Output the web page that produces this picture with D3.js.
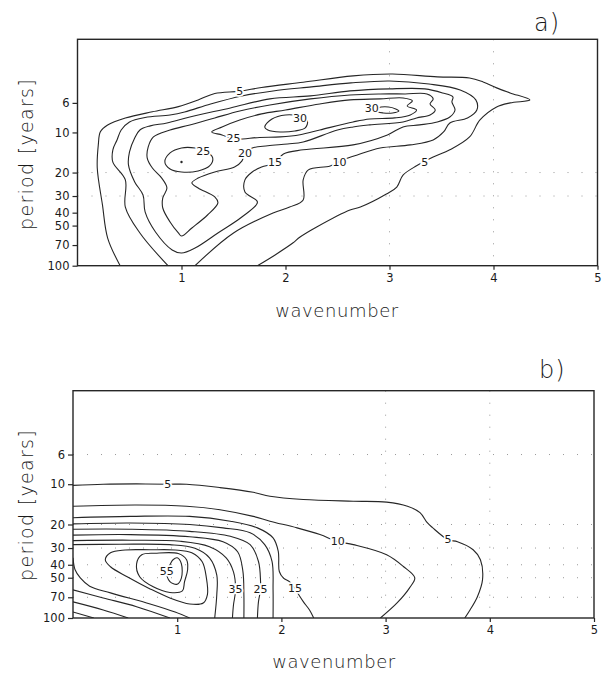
<!DOCTYPE html>
<html>
<head>
<meta charset="utf-8">
<script src="https://cdn.jsdelivr.net/npm/d3@7"></script>
<style>
  body { margin: 0; background: #fff; }
  svg { display: block; }
  text { font-family: "DejaVu Sans", sans-serif; fill: #1a1a1a; }
</style>
</head>
<body>
<svg id="chart" width="611" height="676"></svg>
<script>
// axes
const wavenumberDomain = [0, 5]
const periodDomain = [2, 100]
const xTicks = [1, 2, 3, 4, 5]
const yTicks = [6, 10, 20, 30, 40, 50, 70, 100]

// panel a) contour lines, points are [wavenumber, period]
const a05 = [[0.41,100],[0.29,62],[0.24,35],[0.19,18.5],[0.2,12.4],[0.22,9.9],[0.29,8.8],[0.46,7.8],[0.72,7.0],[0.97,6.4],[1.16,5.7],[1.32,5.1],[1.56,4.9],[1.77,4.6],[2.17,4.2],[2.65,3.76],[3.03,3.64],[3.46,3.83],[3.77,3.9],[3.9,4.18],[4.03,4.63],[4.16,5.05],[4.35,5.7],[4.16,6.0],[4.03,6.44],[3.87,8.06],[3.77,10.8],[3.58,13.5],[3.42,15.3],[3.26,17.8],[3.13,20.9],[3.07,25.7],[2.97,29],[2.72,36.3],[2.62,38.2],[2.3,51.2],[2.14,60.9],[2.07,67.6],[1.9,83],[1.73,100]]
const a10 = [[0.87,100],[0.6,56.8],[0.46,36.3],[0.46,22.7],[0.34,16.7],[0.34,13.5],[0.38,11.4],[0.42,9.58],[0.5,8.34],[0.65,7.72],[0.89,7.39],[1.03,7.02],[1.28,6.11],[1.58,5.32],[1.88,4.88],[2.25,4.55],[2.63,4.25],[3.0,4.11],[3.38,4.33],[3.68,4.8],[3.83,5.7],[3.84,6.78],[3.75,7.78],[3.58,8.49],[3.52,9.92],[3.42,11.4],[3.2,12.4],[2.91,13.1],[2.69,14.75],[2.55,16.1],[2.43,17.85],[2.22,19.1],[2.17,22.7],[2.17,32.1],[2.04,36.3],[1.88,40.2],[1.5,56.8],[1.13,100]]
const a15 = [[1.0,80.3],[0.91,76.2],[0.75,55.9],[0.65,39.5],[0.63,29.5],[0.55,23.5],[0.49,17.5],[0.5,14.0],[0.55,11.0],[0.6,9.58],[0.7,8.93],[0.86,8.49],[1.08,7.65],[1.47,6.55],[1.85,5.6],[2.24,5.32],[2.62,4.88],[3.0,4.71],[3.34,4.71],[3.51,5.05],[3.61,5.41],[3.6,5.9],[3.63,6.78],[3.58,7.65],[3.46,8.34],[3.29,8.78],[3.13,9.09],[2.98,10.44],[2.65,12.4],[2.17,13.5],[1.98,14.5],[1.9,16.9],[1.77,18.2],[1.68,19.8],[1.61,22.7],[1.61,28],[1.73,33.3],[1.58,43.1],[1.35,56.8],[1.13,73.7]]
const a20 = [[1.0,59.9],[0.97,56.8],[0.89,47],[0.82,36.9],[0.82,31],[0.86,26.1],[0.81,22],[0.72,18.5],[0.67,15.5],[0.68,12.85],[0.73,10.8],[0.89,9.58],[1.08,8.78],[1.32,7.78],[1.56,6.9],[1.85,6.22],[2.24,5.6],[2.62,5.23],[2.91,5.14],[3.15,5.14],[3.36,5.14],[3.42,5.6],[3.39,6.11],[3.44,6.78],[3.39,7.39],[3.26,7.78],[3.13,8.34],[2.81,8.78],[2.65,9.09],[2.5,9.58],[2.17,11.8],[2.02,12.2],[1.83,12.6],[1.68,13.1],[1.61,14.5],[1.58,16.4],[1.51,18.2],[1.32,19.8],[1.16,22],[1.1,23.9],[1.16,26.1],[1.32,30.5],[1.35,33.8],[1.25,41.65],[1.1,52.1]]
const a25 = [[1.29,9.92],[1.39,9.09],[1.56,8.06],[1.77,7.26],[2.0,6.78],[2.33,6.11],[2.62,5.7],[2.91,5.6],[3.13,5.51],[3.22,5.8],[3.17,6.33],[3.26,6.78],[3.2,7.39],[3.05,7.78],[2.81,7.92],[2.65,8.34],[2.33,9.58],[2.14,10.4],[1.95,10.8],[1.75,10.9],[1.5,11.2],[1.39,10.44]]
const a25island = [[0.84,16.65],[0.89,14.25],[1.0,13.07],[1.13,13.07],[1.23,13.8],[1.3,15.5],[1.27,17.85],[1.16,19.45],[1.0,19.8],[0.89,18.8]]
const a30left = [[1.8,9.09],[1.87,7.92],[2.0,7.39],[2.12,7.52],[2.21,8.2],[2.19,9.25],[2.09,9.75],[1.95,9.92],[1.83,9.58]]
const a30right = [[2.89,6.55],[2.99,6.44],[3.06,6.66],[3.09,6.9],[3.03,7.14],[2.94,7.14],[2.89,7.02],[2.87,6.78]]
const labelsA = [['5',1.56,4.9],['5',3.34,16.9],['10',2.52,16.9],['15',1.9,16.9],['20',1.61,14.5],['25',1.5,11.1],['25',1.21,13.8],['30',2.14,7.9],['30',2.83,6.66]]
const dotsA = [[1.0,16.65]]
const gridRowsA = [20, 30]
const gridColsA = [3, 4]

// panel b) contour lines
const b05 = [[0,10.2],[0.29,10.0],[0.61,9.95],[0.91,10.0],[1.09,10.0],[1.41,10.6],[1.73,11.5],[1.89,12.3],[2.21,13.0],[2.69,13.4],[3.01,13.6],[3.21,14.6],[3.33,16.3],[3.4,19.4],[3.45,21.1],[3.6,26],[3.69,26.9],[3.84,30.9],[3.91,36.7],[3.93,51.9],[3.88,69.6],[3.81,87.1],[3.76,100]]
const b10 = [[0,14.6],[0.61,14.3],[1.09,14.6],[1.41,15.5],[1.73,17.4],[1.89,18.9],[2.15,21.2],[2.37,23.8],[2.54,26.8],[2.69,28.3],[3.01,33.7],[3.17,41.2],[3.28,50.1],[3.23,59.5],[3.11,77.2],[2.95,100]]
const b15 = [[0,17.8],[0.55,17.4],[1.12,17.4],[1.51,18.9],[1.77,21.2],[1.92,25.2],[1.97,31.8],[1.98,44.9],[2.02,50.4],[2.08,53.7],[2.13,60.6],[2.21,75.5],[2.27,87.1],[2.31,100]]
const b20 = [[0,19.8],[0.55,19.5],[1.12,20.0],[1.44,21.2],[1.7,23.1],[1.84,28.3],[1.91,37.8],[1.92,61.6],[1.92,100]]
const b25 = [[0,21.7],[0.55,21.7],[1.12,22.5],[1.51,24.5],[1.7,28.3],[1.78,37.8],[1.8,53.4],[1.8,61.6],[1.78,75.5],[1.77,100]]
const b30 = [[0,24.0],[0.55,23.8],[1.12,24.7],[1.44,26.9],[1.58,32.0],[1.63,44.4],[1.64,66.8],[1.64,100]]
const b35 = [[0,26.4],[0.55,26.2],[1.03,26.7],[1.31,29.3],[1.47,35.5],[1.54,45.2],[1.56,61.6],[1.54,79.9],[1.53,100]]
const b40 = [[0,28.3],[0.45,28.1],[0.93,28.3],[1.17,30.1],[1.31,35.5],[1.38,47.8],[1.38,66.8],[1.36,100]]
const b40low = [[0,35.5],[0.02,43.6],[0.07,50.1],[0.16,57.8],[0.36,64.9],[0.74,78.5],[0.98,90.2],[1.12,100]]
const b35low = [[0,61.6],[0.29,70.8],[0.61,82.3],[0.93,100]]
const b30low = [[0,75.8],[0.29,87.1],[0.53,100]]
const b25low = [[0,90.2],[0.2,100]]
const b45 = [[0.31,36.7],[0.36,32.5],[0.5,31.0],[0.74,30.9],[0.98,31.0],[1.14,32.5],[1.24,38.0],[1.28,50.1],[1.29,66.8],[1.25,77.2],[1.12,78.5],[0.93,70.8],[0.74,60.6],[0.52,49.2],[0.36,41.4]]
const b50 = [[0.61,39.5],[0.66,33.7],[0.79,32.8],[1.01,33.0],[1.09,36.7],[1.1,43.6],[1.07,53.7],[1.05,62.7],[0.93,64.4],[0.77,58.5],[0.64,49.2]]
const b55 = [[0.96,36.7],[1.0,35.5],[1.04,39.3],[1.04,50.4],[1.0,55.9],[0.93,53.4],[0.9,45.2],[0.93,40]]
const labelsB = [['5',0.91,10.0],['5',3.6,26],['10',2.54,26.8],['15',2.13,60.6],['25',1.8,61.6],['35',1.56,61.6],['55',0.9,45.2]]
const gridRowsB = [6, 20, 30, 40, 50, 70]
const gridColsB = [3, 4]

const contoursA = [
  { level: 5, pts: a05 }, { level: 10, pts: a10 },
  { level: 15, pts: a15, closed: true }, { level: 20, pts: a20, closed: true },
  { level: 25, pts: a25, closed: true }, { level: 25, pts: a25island, closed: true },
  { level: 30, pts: a30left, closed: true }, { level: 30, pts: a30right, closed: true }
]
const contoursB = [
  { level: 5, pts: b05 }, { level: 10, pts: b10 }, { level: 15, pts: b15 }, { level: 20, pts: b20 },
  { level: 25, pts: b25 }, { level: 30, pts: b30 }, { level: 35, pts: b35 }, { level: 40, pts: b40 },
  { level: 40, pts: b40low }, { level: 35, pts: b35low }, { level: 30, pts: b30low }, { level: 25, pts: b25low },
  { level: 45, pts: b45, closed: true }, { level: 50, pts: b50, closed: true }, { level: 55, pts: b55, closed: true }
]

const panels = [
  { id: 'a', tag: 'a)', left: 77.5, right: 597.5, top: 39.3, bottom: 265.7, tagX: 534, tagY: 31,
    xLabelX: 337, xLabelY: 317, yLabelX: 33, yLabelY: 154,
    contours: contoursA, labels: labelsA, dots: dotsA, rows: gridRowsA, cols: gridColsA },
  { id: 'b', tag: 'b)', left: 73, right: 594, top: 390.7, bottom: 618, tagX: 539, tagY: 378,
    xLabelX: 334, xLabelY: 668, yLabelX: 33, yLabelY: 505,
    contours: contoursB, labels: labelsB, dots: [], rows: gridRowsB, cols: gridColsB }
]

const svg = d3.select('#chart')
const ink = '#262626'

panels.forEach(p => {
  const x = d3.scaleLinear().domain(wavenumberDomain).range([p.left, p.right])
  const y = d3.scaleLog().domain(periodDomain).range([p.top, p.bottom])
  const g = svg.append('g')

  g.append('clipPath').attr('id', 'clip-' + p.id)
    .append('rect').attr('x', p.left).attr('y', p.top)
    .attr('width', p.right - p.left).attr('height', p.bottom - p.top)

  // faint dotted grid, as on the scan
  g.selectAll('.row').data(p.rows).join('line').attr('class', 'row')
    .attr('x1', p.left).attr('x2', p.right).attr('y1', d => y(d)).attr('y2', d => y(d))
    .attr('stroke', '#999').attr('stroke-width', 1).attr('stroke-dasharray', '1 13')
  g.selectAll('.col').data(p.cols).join('line').attr('class', 'col')
    .attr('y1', p.top).attr('y2', p.bottom).attr('x1', d => x(d)).attr('x2', d => x(d))
    .attr('stroke', '#999').attr('stroke-width', 1).attr('stroke-dasharray', '1 11')

  const line = d3.line().x(d => x(d[0])).y(d => y(d[1]))
  g.append('g').attr('clip-path', `url(#clip-${p.id})`)
    .selectAll('path').data(p.contours).join('path')
    .attr('d', c => line.curve(c.closed ? d3.curveCatmullRomClosed.alpha(0.5) : d3.curveCatmullRom.alpha(0.5))(c.pts))
    .attr('fill', 'none').attr('stroke', ink).attr('stroke-width', 1.1)

  g.selectAll('.dot').data(p.dots).join('circle').attr('class', 'dot')
    .attr('cx', d => x(d[0])).attr('cy', d => y(d[1])).attr('r', 1.2).attr('fill', ink)

  g.selectAll('.clabel').data(p.labels).join('text').attr('class', 'clabel')
    .attr('x', d => x(d[1])).attr('y', d => y(d[2]))
    .attr('text-anchor', 'middle').attr('dominant-baseline', 'central')
    .attr('font-size', 11)
    .attr('stroke', '#fff').attr('stroke-width', 3.5).attr('paint-order', 'stroke')
    .text(d => d[0])

  // frame
  g.append('rect').attr('x', p.left).attr('y', p.top)
    .attr('width', p.right - p.left).attr('height', p.bottom - p.top)
    .attr('fill', 'none').attr('stroke', ink).attr('stroke-width', 1.4)

  const yAxis = g.append('g').attr('transform', `translate(${p.left},0)`)
    .call(d3.axisLeft(y).tickValues(yTicks).tickFormat(d3.format('d')).tickSize(5).tickPadding(3))
  const xAxis = g.append('g').attr('transform', `translate(0,${p.bottom})`)
    .call(d3.axisBottom(x).tickValues(xTicks).tickFormat(d3.format('d')).tickSize(4).tickPadding(4))
  ;[yAxis, xAxis].forEach(a => {
    a.select('.domain').remove()
    a.attr('font-family', null).attr('font-size', 11.5)
    a.selectAll('line').attr('stroke', ink).attr('stroke-width', 1.2)
  })

  g.append('text').attr('x', p.tagX).attr('y', p.tagY)
    .attr('font-size', 24).attr('font-weight', 300).attr('letter-spacing', 1)
    .text(p.tag)

  g.append('text').attr('x', p.xLabelX).attr('y', p.xLabelY)
    .attr('text-anchor', 'middle').attr('font-size', 18).attr('font-weight', 300)
    .attr('letter-spacing', 0.6).text('wavenumber')

  g.append('text').attr('transform', `translate(${p.yLabelX},${p.yLabelY}) rotate(-90)`)
    .attr('text-anchor', 'middle').attr('font-size', 19).attr('font-weight', 300)
    .attr('letter-spacing', 1.3).text('period [years]')
})
</script>
</body>
</html>
